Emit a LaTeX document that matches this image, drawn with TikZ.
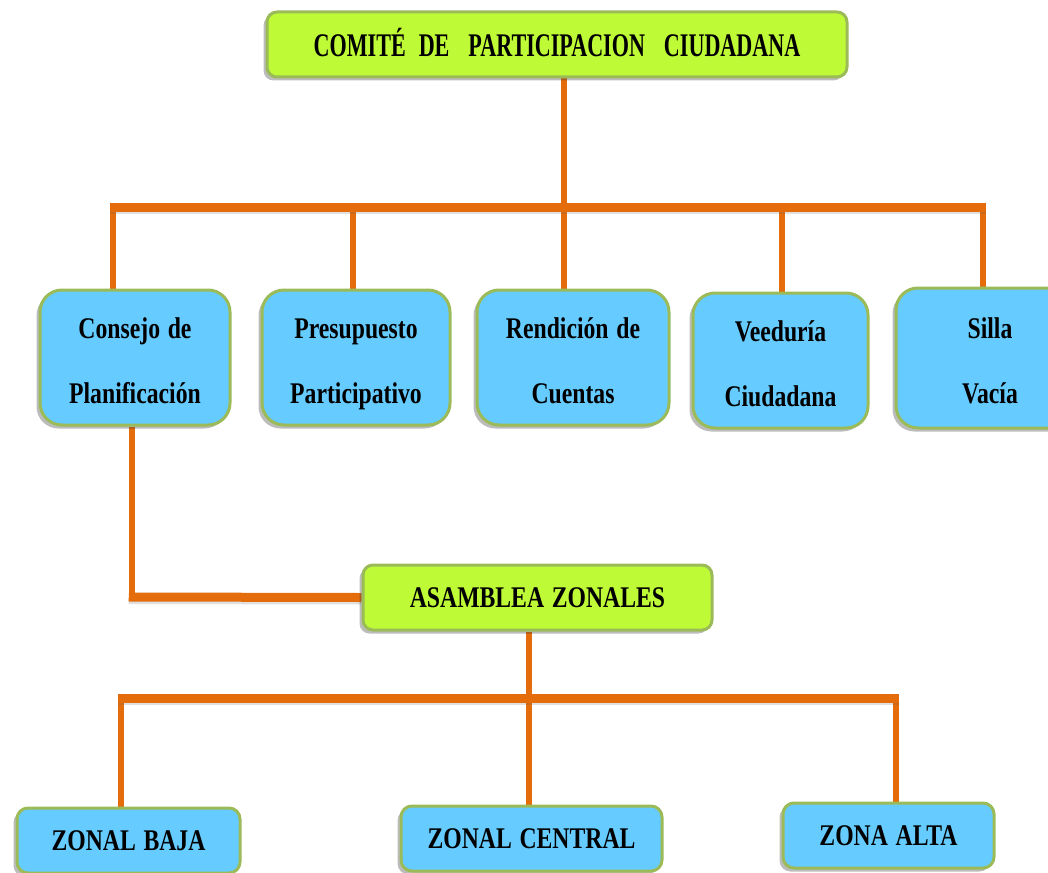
\documentclass[tikz,border=0pt]{standalone}
\usepackage{fontspec}
\setmainfont{Liberation Serif}
\newfontfamily\bodyfont[FakeStretch=0.79,WordSpace=1.3]{Liberation Serif Bold}
\newfontfamily\titlefont[FakeStretch=0.67]{Liberation Serif Bold}
\usetikzlibrary{shadows,backgrounds}
\definecolor{limeF}{RGB}{191,250,55}
\definecolor{oliveB}{RGB}{155,187,89}
\definecolor{skyF}{RGB}{102,204,255}
\definecolor{orangeL}{RGB}{228,108,10}
\newcommand\twol[2]{\begin{tabular}{@{}c@{}}#1\\#2\end{tabular}}
\begin{document}
\begin{tikzpicture}[x=1pt,y=-1pt,
  boxbase/.style={draw=oliveB, line width=3pt, inner sep=0pt, align=center,
    drop shadow={shadow xshift=-3.5pt, shadow yshift=-3.5pt, fill=black!75, opacity=0.35}},
  gbox/.style={boxbase, fill=limeF, rounded corners=10pt,
    minimum height=65pt, text height=20pt, text depth=0pt},
  bbox/.style={boxbase, fill=skyF, rounded corners=22pt,
    font=\bodyfont\fontsize{30}{65}\selectfont},
  zbox/.style={boxbase, fill=skyF, rounded corners=11pt, minimum height=65pt,
    text height=20pt, text depth=0pt, font=\bodyfont\fontsize{30}{36}\selectfont},
  conn/.style={draw=orangeL, line width=6.5pt},
  barline/.style={draw=orangeL, line width=9pt,
    preaction={draw=black!60, opacity=0.2, line width=8pt, transform canvas={yshift=-3pt}}}
]
\useasboundingbox (0,0) rectangle (1048,872);
\clip (0,0) rectangle (1048,872);

% top
\node[gbox, minimum width=580pt, text height=24pt,
  font=\titlefont\fontsize{33}{40}\selectfont] (top) at (557,44.5)
  {COMITÉ\hspace{13pt}DE\hspace{19pt}PARTICIPACION\hspace{19pt}CIUDADANA};

% row of five
\node[bbox, minimum width=190pt, minimum height=135pt] (c1) at (135,357.5) {\twol{Consejo de}{Planificación}};
\node[bbox, minimum width=188pt, minimum height=135pt] (c2) at (356,357.5) {\twol{Presupuesto}{Participativo}};
\node[bbox, minimum width=192pt, minimum height=135pt] (c3) at (573,357.5) {\twol{Rendición de}{Cuentas}};
\node[bbox, minimum width=175pt, minimum height=135pt] (c4) at (780.5,360.5) {\twol{Veeduría}{Ciudadana}};
\node[bbox, minimum width=188pt, minimum height=140pt] (c5) at (990,358) {\twol{Silla}{Vacía}};

% asamblea
\node[gbox, minimum width=349pt, text height=19pt,
  font=\bodyfont\fontsize{30}{36}\selectfont] (asam) at (537.5,597.5) {ASAMBLEA ZONALES};

% zones
\node[zbox, minimum width=223pt] (z1) at (128.5,840.5) {ZONAL BAJA};
\node[zbox, minimum width=261pt] (z2) at (531.5,838.5) {ZONAL CENTRAL};
\node[zbox, minimum width=211pt] (z3) at (888.5,835.5) {ZONA ALTA};

% junction coordinates
\coordinate (bl) at (110,207);
\coordinate (br) at (986,207);
\coordinate (d1) at (113,207);
\coordinate (d2) at (353,207);
\coordinate (d3) at (564,207);
\coordinate (d4) at (782,207);
\coordinate (d5) at (983,207);
\coordinate (k)  at (132,597);
\coordinate (kl) at (128.75,597);
\coordinate (ml) at (118,698);
\coordinate (mr) at (899,698);
\coordinate (e1) at (121,698);
\coordinate (e2) at (529,698);
\coordinate (e3) at (896,698);

\begin{scope}[on background layer]
  \draw[conn] (top.south -| d3) -- (d3 |- c3.north);
  \draw[conn] (d1) -- (d1 |- c1.north);
  \draw[conn] (d2) -- (d2 |- c2.north);
  \draw[conn] (d4) -- (d4 |- c4.north);
  \draw[conn] (d5) -- (d5 |- c5.north);
  \draw[barline] (bl) -- (br);

  \draw[conn] (c1.south -| k) -- (k);
  \draw[barline] (kl) -- (asam.west);

  \draw[conn] (asam.south -| e2) -- (e2 |- z2.north);
  \draw[conn] (e1) -- (e1 |- z1.north);
  \draw[conn] (e3) -- (e3 |- z3.north);
  \draw[barline] (ml) -- (mr);
\end{scope}
\end{tikzpicture}
\end{document}
